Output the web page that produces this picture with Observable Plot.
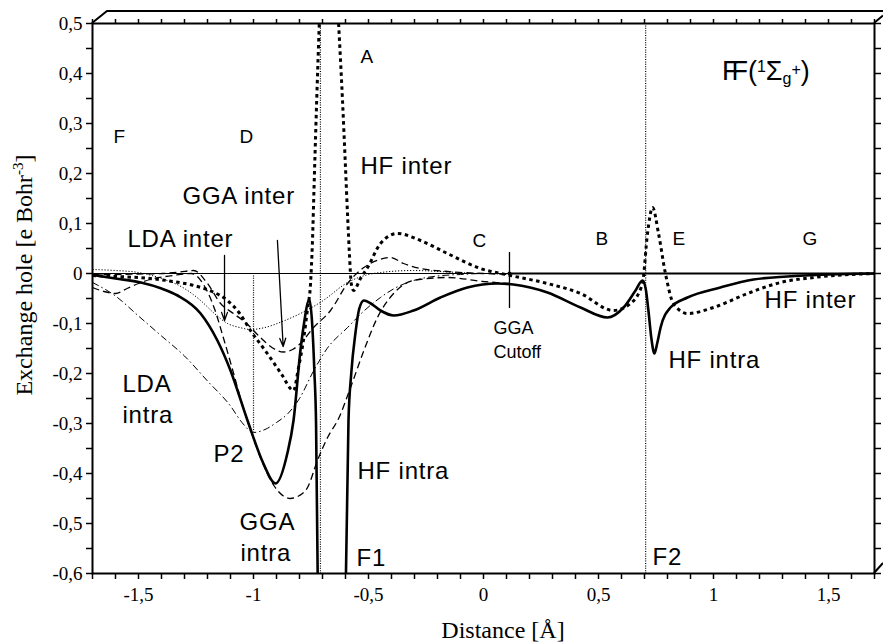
<!DOCTYPE html>
<html><head><meta charset="utf-8">
<script src="https://cdn.jsdelivr.net/npm/d3@7"></script>
<script src="https://cdn.jsdelivr.net/npm/@observablehq/plot@0.6"></script>
<style>
body{margin:0;background:#fff;}
svg g[aria-label*="tick label"] text { font-family: 'Liberation Serif', 'Times New Roman', serif !important; }
</style>
</head><body><div id="chart"></div>
<script>
// ---- axis domains and ticks ----
const xDomain = [-1.7, 1.7];
const yDomain = [-0.6, 0.5];
const xTicks = d3.range(-17, 18).map(i => i / 10);
const yTicks = d3.range(-12, 11).map(i => i / 20);

// ---- series ----
const hfIntraX = [-1.7,-1.6,-1.49,-1.4,-1.33,-1.23,-1.157,-1.1,-1.026,-0.957,-0.904,-0.853,-0.826,-0.796,-0.783,-0.757,-0.745,-0.735,-0.728,-0.721,-0.66,-0.598,-0.587,-0.575,-0.557,-0.54,-0.52,-0.49,-0.448,-0.39,-0.304,-0.187,-0.07,0.06,0.13,0.278,0.422,0.539,0.609,0.661,0.691,0.705,0.717,0.73,0.743,0.755,0.77,0.813,0.887,1.03,1.174,1.32,1.5,1.7];
const hfIntraY = [-0.003,-0.01,-0.018,-0.03,-0.044,-0.08,-0.134,-0.194,-0.294,-0.38,-0.42,-0.36,-0.294,-0.154,-0.108,-0.052,-0.1,-0.2,-0.3,-0.6,null,-0.6,-0.294,-0.2,-0.12,-0.07,-0.054,-0.06,-0.074,-0.084,-0.074,-0.048,-0.028,-0.02,-0.022,-0.038,-0.068,-0.088,-0.068,-0.034,-0.014,-0.03,-0.074,-0.13,-0.16,-0.14,-0.108,-0.068,-0.048,-0.028,-0.012,-0.006,-0.002,0];

const hfInterX = [-1.7,-1.6,-1.448,-1.35,-1.26,-1.18,-1.113,-1.06,-1.013,-0.94,-0.88,-0.826,-0.805,-0.783,-0.765,-0.752,-0.744,-0.735,-0.725,-0.714,-0.67,-0.63,-0.613,-0.6,-0.59,-0.583,-0.575,-0.565,-0.535,-0.504,-0.448,-0.374,-0.274,-0.157,-0.013,0.117,0.278,0.422,0.565,0.639,0.691,0.713,0.735,0.761,0.791,0.826,0.887,1.0,1.148,1.291,1.435,1.7];
const hfInterY = [-0.004,-0.006,-0.01,-0.016,-0.024,-0.036,-0.054,-0.08,-0.114,-0.16,-0.2,-0.234,-0.19,-0.134,-0.07,-0.02,0.06,0.2,0.35,0.5,null,0.5,0.346,0.212,0.106,0.04,-0.02,-0.034,-0.01,0.012,0.06,0.08,0.066,0.04,0.01,-0.004,-0.02,-0.04,-0.074,-0.06,-0.02,0.08,0.132,0.08,0.0,-0.06,-0.08,-0.068,-0.04,-0.018,-0.008,0];

const ggaIntraX = [-1.7,-1.65,-1.6,-1.55,-1.5,-1.45,-1.35,-1.27,-1.22,-1.17,-1.13,-1.09,-1.05,-1.0,-0.95,-0.91,-0.87,-0.84,-0.8,-0.765,-0.722,-0.678,-0.63,-0.578,-0.52,-0.461,-0.391,-0.304,-0.157,0.0,0.11];
const ggaIntraY = [-0.028,-0.036,-0.04,-0.03,-0.02,-0.012,-0.004,0.0,-0.02,-0.07,-0.13,-0.194,-0.26,-0.33,-0.39,-0.425,-0.445,-0.45,-0.444,-0.428,-0.374,-0.328,-0.29,-0.228,-0.154,-0.088,-0.04,-0.014,-0.008,-0.016,-0.02];

const ggaInterX = [-1.7,-1.6,-1.5,-1.4,-1.32,-1.26,-1.2,-1.143,-1.087,-1.03,-0.97,-0.92,-0.87,-0.83,-0.796,-0.739,-0.665,-0.591,-0.52,-0.45,-0.404,-0.348,-0.274,-0.157,0.0,0.11];
const ggaInterY = [-0.002,-0.002,-0.001,0.0,0.003,0.006,-0.02,-0.06,-0.08,-0.1,-0.128,-0.148,-0.157,-0.152,-0.14,-0.108,-0.074,-0.02,0.012,0.028,0.032,0.02,0.01,0.004,0.0,-0.002];

const ldaIntraX = [-1.7,-1.6,-1.5,-1.4,-1.3,-1.2,-1.1,-1.05,-1.0,-0.95,-0.9,-0.85,-0.8,-0.739,-0.68,-0.591,-0.52,-0.448,-0.38,-0.304,-0.2,-0.1,0.0,0.11];
const ldaIntraY = [-0.018,-0.045,-0.085,-0.125,-0.165,-0.215,-0.265,-0.298,-0.318,-0.312,-0.298,-0.28,-0.25,-0.195,-0.15,-0.108,-0.075,-0.048,-0.028,-0.014,-0.005,-0.002,0,0];

const ldaInterX = [-1.7,-1.6,-1.5,-1.4,-1.3,-1.23,-1.17,-1.113,-1.06,-1.013,-0.95,-0.88,-0.796,-0.7,-0.591,-0.5,-0.448,-0.304,-0.15,0.0,0.11];
const ldaInterY = [0.008,0.006,0.002,-0.01,-0.03,-0.054,-0.08,-0.1,-0.108,-0.112,-0.108,-0.097,-0.08,-0.055,-0.018,-0.002,0.002,0.006,0.003,0.0,0.0];

// ---- reference lines ----
const nuclei = [-0.709, 0.705];            // F1, F2
const p2Line = {x: -1.0, y1: 0, y2: -0.318};
const cutoff = {x: 0.113, y1: 0.042, y2: -0.07};

// ---- annotations ----
const bigLabels = [
  {t: "HF inter", x: -0.535, y: 0.2},
  {t: "GGA inter", x: -1.309, y: 0.14},
  {t: "LDA inter", x: -1.548, y: 0.054},
  {t: "LDA", x: -1.57, y: -0.236},
  {t: "intra", x: -1.57, y: -0.298},
  {t: "P2", x: -1.174, y: -0.376},
  {t: "GGA", x: -1.061, y: -0.512},
  {t: "intra", x: -1.057, y: -0.574},
  {t: "HF intra", x: -0.548, y: -0.41},
  {t: "F1", x: -0.552, y: -0.584},
  {t: "F2", x: 0.735, y: -0.582},
  {t: "HF inter", x: 1.222, y: -0.068},
  {t: "HF intra", x: 0.804, y: -0.188}
];
const letterLabels = [
  {t: "F", x: -1.609, y: 0.262},
  {t: "D", x: -1.061, y: 0.262},
  {t: "A", x: -0.535, y: 0.422},
  {t: "C", x: -0.048, y: 0.054},
  {t: "B", x: 0.487, y: 0.058},
  {t: "E", x: 0.822, y: 0.058},
  {t: "G", x: 1.387, y: 0.058}
];
const cutoffLabels = [
  {t: "GGA", x: 0.043, y: -0.12},
  {t: "Cutoff", x: 0.043, y: -0.168}
];
const arrows = [
  {x1: -1.126, y1: 0.036, x2: -1.126, y2: -0.094},
  {x1: -0.896, y1: 0.066, x2: -0.871, y2: -0.146}
];
const titlePos = {x: 1.039, y: 0.386};

// ---- build tables ----
const zip = (xs, ys) => xs.map((x, i) => ({x, y: ys[i]}));
const hfIntra = zip(hfIntraX, hfIntraY);
const hfInter = zip(hfInterX, hfInterY);
const ggaIntra = zip(ggaIntraX, ggaIntraY);
const ggaInter = zip(ggaInterX, ggaInterY);
const ldaIntra = zip(ldaIntraX, ldaIntraY);
const ldaInter = zip(ldaInterX, ldaInterY);

const fmt = d => String(+d.toFixed(1)).replace(".", ",");
const isHalf = d => Math.abs(d * 2 - Math.round(d * 2)) < 1e-6;
const isTenth = d => Math.abs(d * 10 - Math.round(d * 10)) < 1e-6;

const sans = "'Liberation Sans', Arial, Helvetica, sans-serif";
const serif = "'Liberation Serif', 'Times New Roman', serif";
const lineOpts = {x: "x", y: "y", curve: "monotone-x", stroke: "black", strokeLinecap: "butt", strokeLinejoin: "miter", clip: true};

const chart = Plot.plot({
  width: 883,
  height: 644,
  marginLeft: 92,
  marginRight: 9,
  marginTop: 23,
  marginBottom: 71,
  x: {domain: xDomain},
  y: {domain: yDomain},
  style: {background: "white", fontFamily: serif, fontSize: "19px", color: "black"},
  marks: [
    Plot.ruleY([0], {stroke: "black", strokeWidth: 1}),
    Plot.ruleY([0], {x1: cutoff.x, x2: xDomain[1], stroke: "black", strokeWidth: 2.2}),
    Plot.ruleX(nuclei, {stroke: "black", strokeWidth: 1.2, strokeDasharray: "1,1.4"}),
    Plot.ruleX([p2Line.x], {y1: p2Line.y1, y2: p2Line.y2, stroke: "black", strokeWidth: 1.2, strokeDasharray: "1,1.4"}),
    Plot.line(ldaInter, {...lineOpts, strokeWidth: 1, strokeDasharray: "1.2,1.8"}),
    Plot.line(ldaIntra, {...lineOpts, strokeWidth: 1, strokeDasharray: "7,3,1.5,3"}),
    Plot.line(ggaInter, {...lineOpts, strokeWidth: 1.3, strokeDasharray: "7,4"}),
    Plot.line(ggaIntra, {...lineOpts, strokeWidth: 1.3, strokeDasharray: "7,4"}),
    Plot.line(hfInter, {...lineOpts, strokeWidth: 3, strokeDasharray: "3.5,3.5"}),
    Plot.line(hfIntra, {...lineOpts, strokeWidth: 2.6, strokeLinecap: "round", strokeLinejoin: "round"}),
    Plot.ruleX([cutoff.x], {y1: cutoff.y1, y2: cutoff.y2, stroke: "black", strokeWidth: 1.3}),
    Plot.dot([cutoff], {x: "x", y: () => 0, r: 2, fill: "black"}),
    Plot.arrow(arrows, {x1: "x1", y1: "y1", x2: "x2", y2: "y2", stroke: "black", strokeWidth: 1.3, headLength: 10, headAngle: 40}),
    Plot.text(bigLabels, {x: "x", y: "y", text: "t", textAnchor: "start", lineAnchor: "bottom", fontFamily: sans, fontSize: 24, fill: "black"}),
    Plot.text(letterLabels, {x: "x", y: "y", text: "t", textAnchor: "start", lineAnchor: "bottom", fontFamily: sans, fontSize: 19, fill: "black"}),
    Plot.text(cutoffLabels, {x: "x", y: "y", text: "t", textAnchor: "start", lineAnchor: "bottom", fontFamily: sans, fontSize: 18, fill: "black"}),
    Plot.axisX({ticks: xTicks, tickSize: 6, tickPadding: 8, tickFormat: d => isHalf(d) ? fmt(d) : "", label: null, strokeWidth: 1.5, fontSize: 19, fontFamily: serif}),
    Plot.axisX({anchor: "top", ticks: xTicks, tickSize: 5, tickFormat: () => "", label: null, strokeWidth: 1.5}),
    Plot.axisY({ticks: yTicks, tickSize: 6, tickPadding: 4, tickFormat: d => isTenth(d) ? fmt(d) : "", label: null, strokeWidth: 1.5, fontSize: 19, fontFamily: serif}),
    Plot.axisY({anchor: "right", ticks: yTicks, tickSize: 6, tickFormat: () => "", label: null, strokeWidth: 1.5}),
    Plot.frame({stroke: "black", strokeWidth: 2})
  ]
});

document.getElementById("chart").appendChild(chart);

const svg = d3.select(chart);
// typography touches: serif tick labels, slightly spaced sans annotations
svg.selectAll('g[aria-label*="axis"] text').style("font-family", serif).style("font-size", "19px");
svg.selectAll('g[font-size="24"]').attr("letter-spacing", 0.8);

// ---- extra text with super/subscripts and the 3D box edges, placed through the plot's scales ----
const sx = chart.scale("x"), sy = chart.scale("y");
const X0 = sx.apply(xDomain[0]), X1 = sx.apply(xDomain[1]);
const YT = sy.apply(yDomain[1]), YB = sy.apply(yDomain[0]);

svg.append("path")
  .attr("d", `M${X0},${YT}l15,-12H883M${X1},${YT}l9,-7.5M${X1},${YB}l9,-10`)
  .attr("fill", "none").attr("stroke", "black").attr("stroke-width", 2);

const yl = svg.append("text")
  .attr("transform", `translate(32,${sy.apply(0) + 2}) rotate(-90)`)
  .attr("text-anchor", "middle").attr("font-family", serif).attr("font-size", 24).attr("fill", "black");
yl.append("tspan").text("Exchange hole [e Bohr");
yl.append("tspan").attr("font-size", 15).attr("dy", -9).text("-3");
yl.append("tspan").attr("dy", 9).text("]");

svg.append("text")
  .attr("x", (X0 + X1) / 2 + 20).attr("y", YB + 65)
  .attr("text-anchor", "middle").attr("font-family", serif).attr("font-size", 24).attr("fill", "black")
  .text("Distance [Å]");

const t = svg.append("text")
  .attr("x", sx.apply(titlePos.x)).attr("y", sy.apply(titlePos.y))
  .attr("text-anchor", "start")
  .attr("font-family", sans).attr("font-size", 27).attr("fill", "black");
t.append("tspan").attr("letter-spacing", -7).text("F");
t.append("tspan").text("F(");
t.append("tspan").attr("font-size", 16).attr("dy", -8).text("1");
t.append("tspan").attr("dy", 8).text("Σ");
t.append("tspan").attr("font-size", 16).attr("dy", 4).text("g");
t.append("tspan").attr("font-size", 16).attr("dy", -9).text("+");
t.append("tspan").attr("dy", 5).text(")");
</script></body></html>
